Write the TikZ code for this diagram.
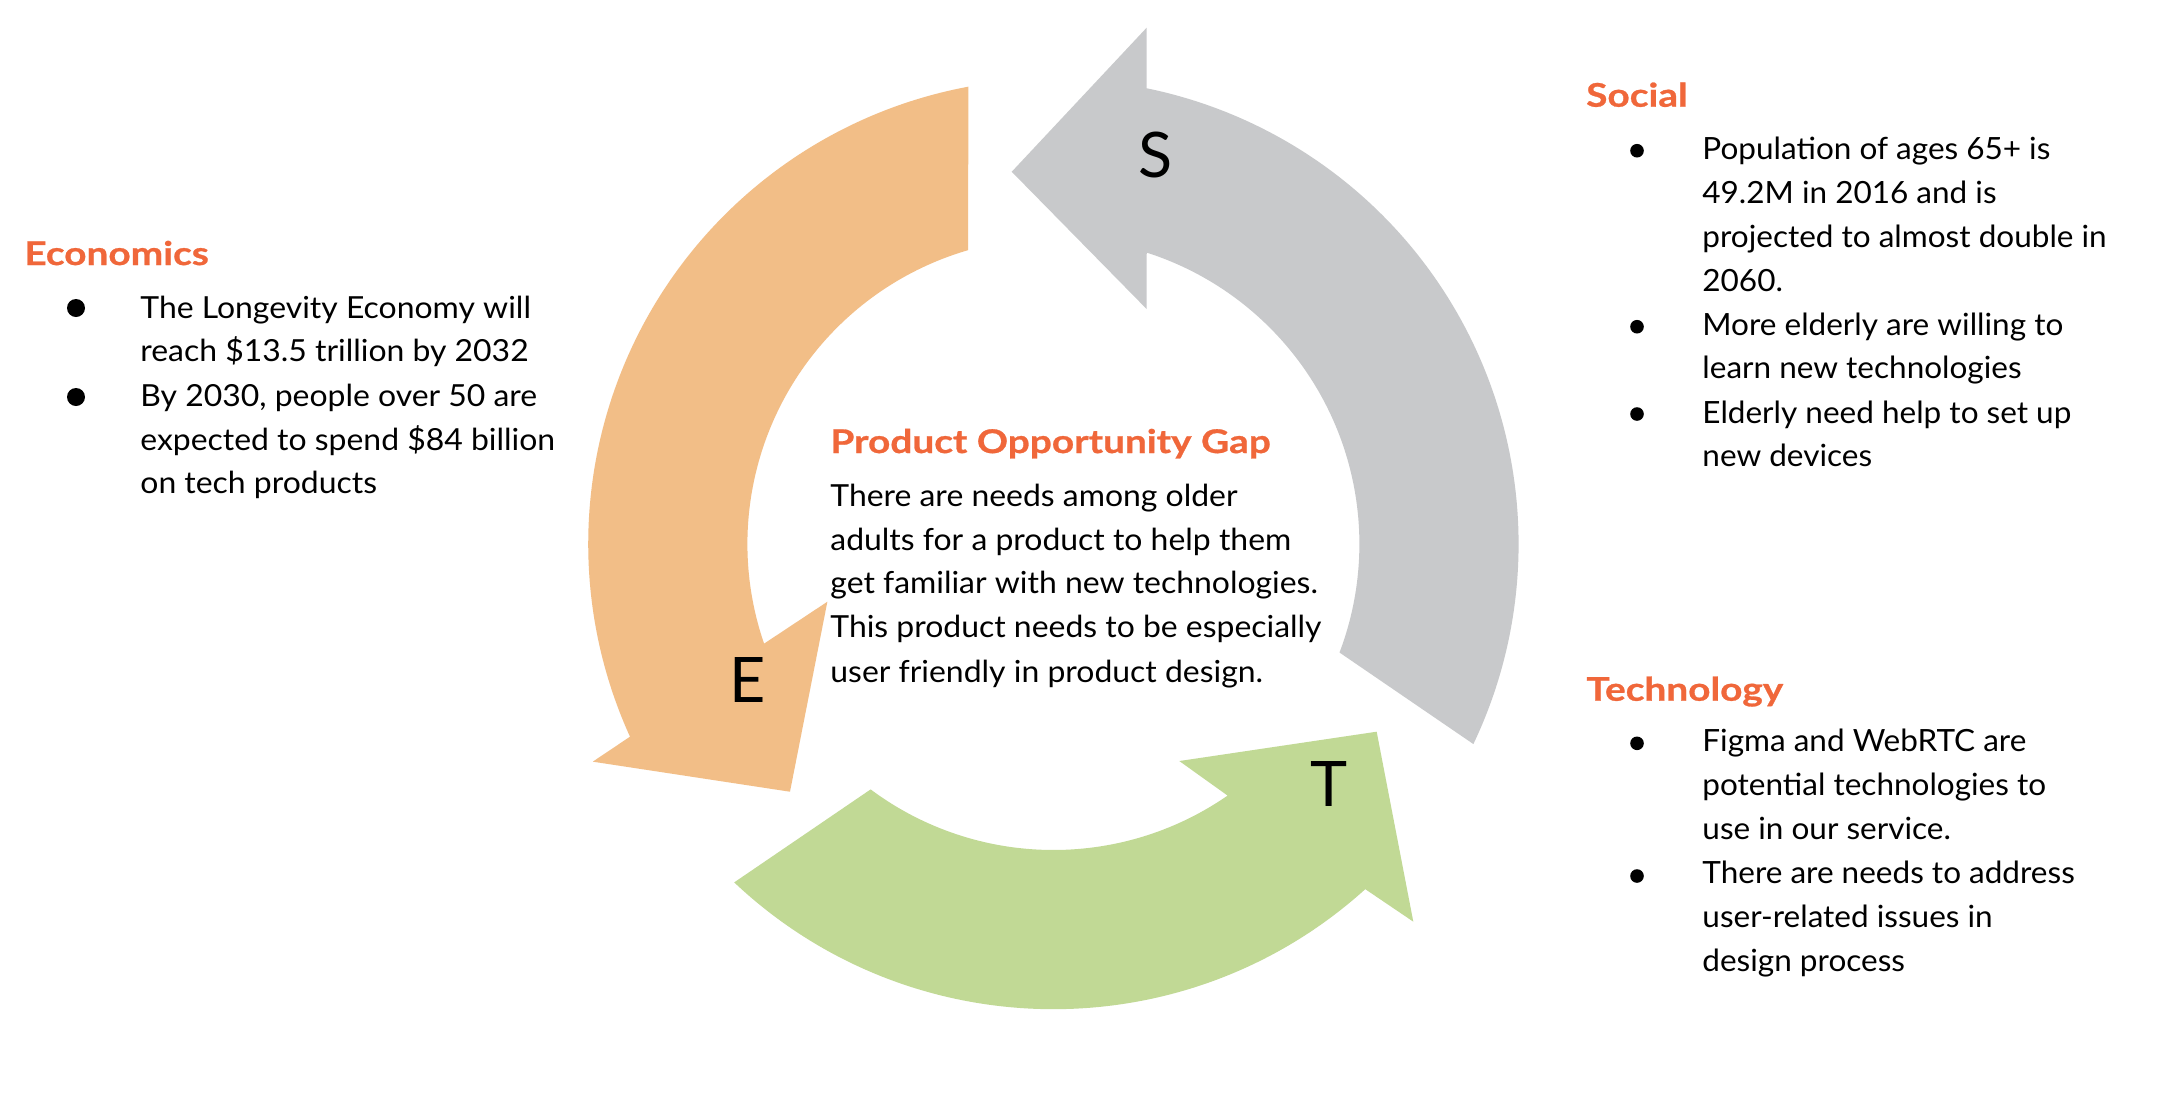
\documentclass[tikz,border=0pt]{standalone}
\usepackage{fontspec}
\setmainfont{Lato}[FakeStretch=1.03]
\newfontfamily\proxfont{Lato}[FakeStretch=1.05]
\newfontfamily\headfont{Lato}[FakeStretch=1.19,FakeBold=0.8]
\newfontfamily\letterfont{Lato}
\definecolor{headC}{RGB}{240,103,58}
\definecolor{orangeF}{RGB}{242,190,135}
\definecolor{greyF}{RGB}{200,201,203}
\definecolor{greenF}{RGB}{193,217,149}
\begin{document}
\begin{tikzpicture}[x=1pt,y=1pt,
  head/.style={anchor=base west, inner sep=0pt, text=headC, font=\headfont\fontsize{16.3}{20}\selectfont\bfseries},
  body/.style={anchor=base west, inner sep=0pt, font=\fontsize{15.3}{22}\selectfont},
  prbody/.style={anchor=base west, inner sep=0pt, font=\proxfont\fontsize{15.2}{22}\selectfont},
  bigbul/.style={circle, fill=black, inner sep=0pt, minimum size=9pt},
  smallbul/.style={circle, fill=black, inner sep=0pt, minimum size=6.8pt},
  letter/.style={inner sep=0pt, font=\letterfont\fontsize{31.4}{36}\selectfont}]
\useasboundingbox (0,0) rectangle (1091,-547);
\fill[white] (0,0) rectangle (1091,-547);

% circular arrows
\begin{scope}[shift={(526.7,-272)}]
\fill[orangeF] (100.54:232.6pt) arc[start angle=100.54, end angle=204.47, radius=232.6pt]
  -- (205.29:254.75pt) -- (223.24:180.8pt) -- (194.32:116.65pt) -- (199.0:153pt)
  arc[start angle=199.0, end angle=106.18, radius=153pt] -- cycle;
\fill[greyF] (-25.47:232.6pt) arc[start angle=-25.47, end angle=78.43, radius=232.6pt]
  -- (79.76:262.35pt) -- (96.39:187.3pt) -- (68.35:126.4pt) -- (72.24:153pt)
  arc[start angle=72.24, end angle=-20.77, radius=153pt] -- cycle;
\fill[greenF] (226.67:232.6pt) arc[start angle=226.67, end angle=312.1, radius=232.6pt]
  -- (313.62:260.85pt) -- (329.86:186.9pt) -- (300.12:125.45pt) -- (304.70:153pt)
  arc[start angle=304.70, end angle=233.32, radius=153pt] -- cycle;
\end{scope}

\node[letter] (S) at (578,-77.5) {S};
\node[letter] (E) at (374,-340) {E};
\node[letter] (T) at (664.75,-392) {T};

% Economics
\node[head] (ecoH) at (12,-132.5) {Economics};
\node[bigbul] (ecoB1) at (38,-154) {};
\node[bigbul] (ecoB2) at (38,-198.5) {};
\node[prbody] (eco1) at (70,-159.15) {The Longevity Economy will};
\node[prbody] (eco2) at (70,-180.85) {reach \$13.5 trillion by 2032};
\node[prbody] (eco3) at (70,-203) {By 2030, people over 50 are};
\node[prbody] (eco4) at (70,-225) {expected to spend \$84 billion};
\node[prbody] (eco5) at (70,-246.65) {on tech products};

% Product Opportunity Gap
\node[head] (pogH) at (415,-226.5) {Product Opportunity Gap};
\node[prbody] (pog1) at (415,-253) {There are needs among older};
\node[prbody] (pog2) at (415,-275) {adults for a product to help them};
\node[prbody] (pog3) at (415,-296.5) {get familiar with new technologies.};
\node[prbody] (pog4) at (415,-318.5) {This product needs to be especially};
\node[prbody] (pog5) at (415,-341) {user friendly in product design.};

% Social
\node[head] (socH) at (792.9,-53.35) {Social};
\node[smallbul] (socB1) at (818.5,-75.35) {};
\node[smallbul] (socB2) at (818.5,-163.35) {};
\node[smallbul] (socB3) at (818.5,-207) {};
\node[body] (soc1) at (851,-79.5) {Population of ages 65+ is};
\node[body] (soc2) at (851,-101.5) {49.2M in 2016 and is};
\node[body] (soc3) at (851,-123.5) {projected to almost double in};
\node[body] (soc4) at (851,-145.5) {2060.};
\node[body] (soc5) at (851,-167.5) {More elderly are willing to};
\node[body] (soc6) at (851,-189) {learn new technologies};
\node[body] (soc7) at (851,-211.5) {Elderly need help to set up};
\node[body] (soc8) at (851,-233) {new devices};

% Technology
\node[head] (tecH) at (793,-350.35) {Technology};
\node[smallbul] (tecB1) at (818.5,-371.65) {};
\node[smallbul] (tecB2) at (818.5,-438) {};
\node[body] (tec1) at (851,-375.85) {Figma and WebRTC are};
\node[body] (tec2) at (851,-397.5) {potential technologies to};
\node[body] (tec3) at (851,-419.5) {use in our service.};
\node[body] (tec4) at (851,-441.5) {There are needs to address};
\node[body] (tec5) at (851,-463.5) {user-related issues in};
\node[body] (tec6) at (851,-485.5) {design process};
\end{tikzpicture}
\end{document}
